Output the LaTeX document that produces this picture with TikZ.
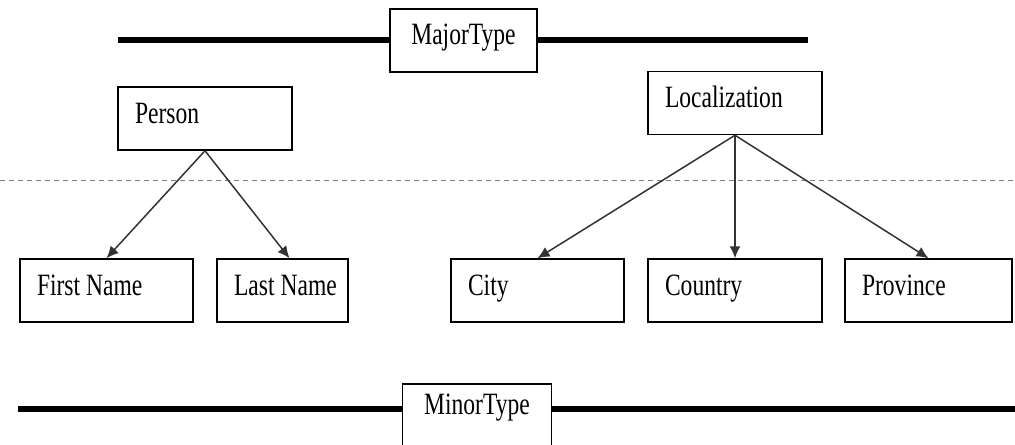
\documentclass[tikz,border=0pt]{standalone}
\usepackage{fontspec}
\setmainfont{Liberation Serif}[FakeStretch=0.76]
\usetikzlibrary{arrows.meta}

% narrow interword space to go with the stretched face
\newcommand\typefont{\fontsize{15.5}{18}\selectfont\spaceskip 3pt plus 1pt\relax}

\tikzset{
    typebox/.style={draw=black, line width=0.75pt, fill=white,
        font=\typefont, minimum height=31.5pt,
        inner xsep=8.5pt, text height=0.7em, text depth=0.25em},
    catbox/.style={typebox, text width=#1, align=flush left},
    rule/.style={line width=3pt, black},
    link/.style={line width=0.75pt, draw=black!80, -{Latex[length=6pt,width=5.5pt]}},
}

\begin{document}
\begin{tikzpicture}[x=0.5pt,y=-0.5pt]
        \clip (0,0) rectangle (1015,444);
        \fill[white] (0,0) rectangle (1015,444);

        % draw the upper and lower type rules, the boxes go on top
        \coordinate (majorL) at (118,40);
        \coordinate (majorR) at (808,40);
        \coordinate (minorL) at (18,409);
        \coordinate (minorR) at (1015,409);
        \draw[rule] (majorL) -- (majorR);
        \draw[rule] (minorL) -- (minorR);

        \node[typebox, minimum width=73.5pt] (major) at (463.5,40.5) {MajorType};
        \node[typebox, minimum width=74.5pt, anchor=north, inner ysep=8.5pt,
              text depth=40pt] (minor) at (477,383) {MinorType};

        % draw the dashed separation line
        \coordinate (dashL) at (0,180);
        \coordinate (dashR) at (1015,180);
        \draw[black!50, line width=0.5pt, dash pattern=on 2.5pt off 2pt] (dashL) -- (dashR);

        % draw the major categories
        \node[catbox=70pt] (person) at (205,118.5) {Person};
        \node[catbox=70pt] (local)  at (735,103)   {Localization};

        % draw the minor categories
        \node[catbox=69.5pt] (first)    at (106.5,290.5) {First~Name};
        \node[catbox=48.5pt] (last)     at (282.5,290.5) {Last~Name};
        \node[catbox=69.5pt] (city)     at (537.5,290.5) {City};
        \node[catbox=70pt]   (country)  at (735,290.5)   {Country};
        \node[catbox=66.5pt] (province) at (928.5,290.5) {Province};

        % connect them
        \draw[link] (person.south) -- (first.north);
        \draw[link] (person.south) -- ([xshift=3.5pt]last.north);
        \draw[link] (local.south) -- (city.north);
        \draw[link] (local.south) -- (country.north);
        \draw[link] (local.south) -- (province.north);
    \end{tikzpicture}
\end{document}
